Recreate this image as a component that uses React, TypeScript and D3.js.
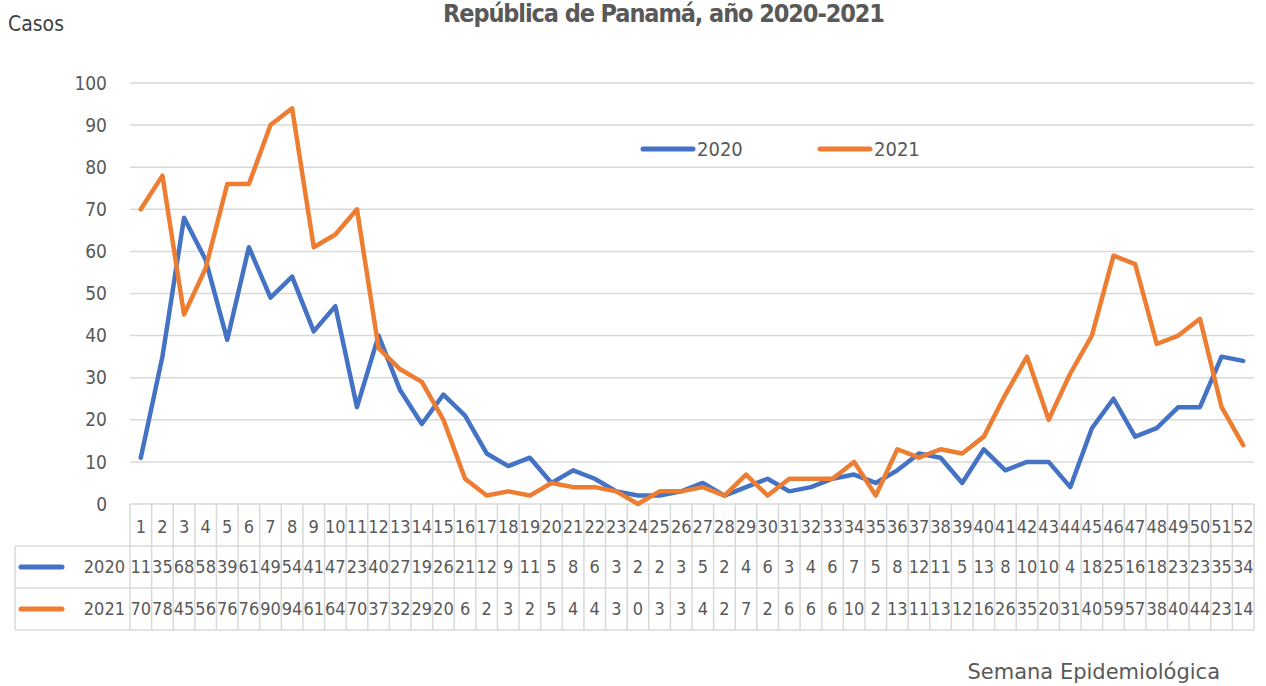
import * as d3 from 'd3';

const weeks = d3.range(1, 53).map(String);
const cases2020 = [11, 35, 68, 58, 39, 61, 49, 54, 41, 47, 23, 40, 27, 19, 26, 21, 12, 9, 11, 5, 8, 6, 3, 2, 2, 3, 5, 2, 4, 6, 3, 4, 6, 7, 5, 8, 12, 11, 5, 13, 8, 10, 10, 4, 18, 25, 16, 18, 23, 23, 35, 34];
const cases2021 = [70, 78, 45, 56, 76, 76, 90, 94, 61, 64, 70, 37, 32, 29, 20, 6, 2, 3, 2, 5, 4, 4, 3, 0, 3, 3, 4, 2, 7, 2, 6, 6, 6, 10, 2, 13, 11, 13, 12, 16, 26, 35, 20, 31, 40, 59, 57, 38, 40, 44, 23, 14];
const yTicks = [0, 10, 20, 30, 40, 50, 60, 70, 80, 90, 100];

const series = [
  { name: '2020', values: cases2020, color: '#4472C4' },
  { name: '2021', values: cases2021, color: '#ED7D31' },
];

const W = 1266;
const H = 686;
const left = 130;
const right = 1254;
const top = 83;
const zeroY = 504;
const rowH = 42;
const tableLeft = 15;
const font = "'Liberation Sans Narrow', 'DejaVu Sans Condensed', sans-serif";
const textColor = '#595959';
const gridColor = '#d9d9d9';

export default function App() {
  const x = d3.scaleBand<string>().domain(weeks).range([left, right]);
  const y = d3.scaleLinear().domain([0, 100]).range([zeroY, top]);
  const cx = (w: string) => (x(w) ?? 0) + x.bandwidth() / 2;
  const line = d3
    .line<number>()
    .x((_, i) => cx(weeks[i]))
    .y((d) => y(d));

  const tableBottom = zeroY + rowH * 3;

  return (
    <svg width={W} height={H} style={{ position: 'absolute', left: 0, top: 0, background: '#fff' }}>
      <text x={664} y={22} textAnchor="middle" fontFamily={font} fontSize={25} fontWeight={600} fill={textColor} textLength={442}>
        República de Panamá, año 2020-2021
      </text>
      <text x={8} y={31} fontFamily={font} fontSize={21} fill="#404040">
        Casos
      </text>

      {/* gridlines + y ticks */}
      {yTicks.map((t) => (
        <g key={t}>
          {t > 0 && <line x1={left} x2={right} y1={y(t)} y2={y(t)} stroke={gridColor} strokeWidth={1.5} />}
          <text x={107} y={y(t)} dy="0.35em" textAnchor="end" fontFamily={font} fontSize={19} fill={textColor}>
            {t}
          </text>
        </g>
      ))}

      {/* data table */}
      <g stroke={gridColor} strokeWidth={1.5}>
        <line x1={left} x2={right} y1={zeroY} y2={zeroY} />
        <line x1={tableLeft} x2={right} y1={zeroY + rowH} y2={zeroY + rowH} />
        <line x1={tableLeft} x2={right} y1={zeroY + rowH * 2} y2={zeroY + rowH * 2} />
        <line x1={tableLeft} x2={right} y1={tableBottom} y2={tableBottom} />
        <line x1={tableLeft} x2={tableLeft} y1={zeroY + rowH} y2={tableBottom} />
        {weeks.map((w) => (
          <line key={w} x1={x(w)} x2={x(w)} y1={zeroY} y2={tableBottom} />
        ))}
        <line x1={right} x2={right} y1={zeroY} y2={tableBottom} />
      </g>
      {weeks.map((w) => (
        <text key={w} x={cx(w)} y={zeroY + rowH / 2 + 2} dy="0.35em" textAnchor="middle" fontFamily={font} fontSize={18} fill={textColor}>
          {w}
        </text>
      ))}
      {series.map((s, si) => {
        const rowMid = zeroY + rowH * (si + 1) + rowH / 2;
        return (
          <g key={s.name}>
            <line x1={21} x2={62} y1={rowMid} y2={rowMid} stroke={s.color} strokeWidth={5} strokeLinecap="round" />
            <text x={125} y={rowMid} dy="0.35em" textAnchor="end" fontFamily={font} fontSize={18} fill={textColor}>
              {s.name}
            </text>
            {s.values.map((v, i) => (
              <text key={i} x={cx(weeks[i])} y={rowMid} dy="0.35em" textAnchor="middle" fontFamily={font} fontSize={18} fill={textColor}>
                {v}
              </text>
            ))}
          </g>
        );
      })}

      {/* lines */}
      {series.map((s) => (
        <path key={s.name} d={line(s.values) ?? ''} fill="none" stroke={s.color} strokeWidth={4.5} strokeLinejoin="round" strokeLinecap="round" />
      ))}

      {/* legend */}
      {series.map((s, i) => {
        const lx = 643 + i * 177;
        return (
          <g key={s.name}>
            <line x1={lx} x2={lx + 50} y1={149} y2={149} stroke={s.color} strokeWidth={5} strokeLinecap="round" />
            <text x={lx + 54} y={149} dy="0.35em" fontFamily={font} fontSize={20} fill={textColor}>
              {s.name}
            </text>
          </g>
        );
      })}

      <text x={1220} y={679} textAnchor="end" fontFamily="'DejaVu Sans', sans-serif" fontSize={21} fill={textColor}>
        Semana Epidemiológica
      </text>
    </svg>
  );
}
